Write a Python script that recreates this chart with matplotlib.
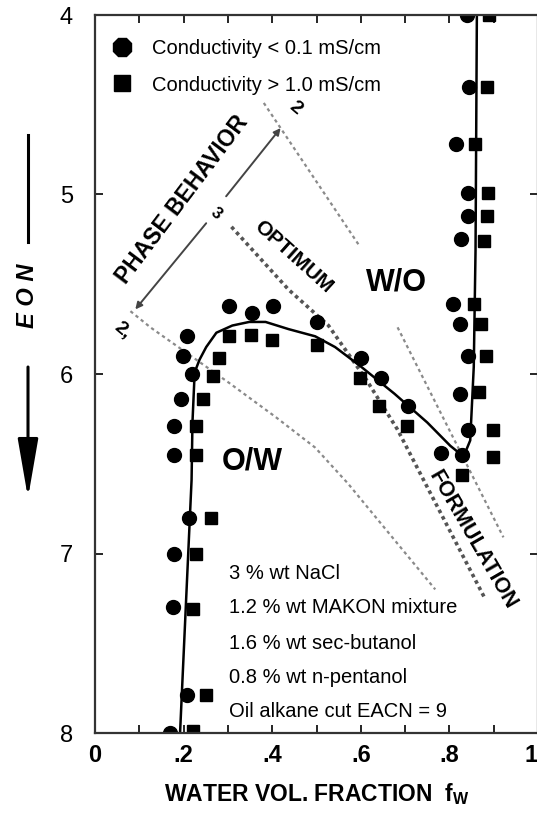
import numpy as np
import matplotlib.pyplot as plt
from matplotlib.lines import Line2D
from matplotlib.patches import FancyArrowPatch

plt.rcParams['font.family'] = ['Liberation Sans', 'DejaVu Sans']
plt.rcParams['mathtext.fontset'] = 'custom'
plt.rcParams['mathtext.rm'] = 'Liberation Sans'
plt.rcParams['mathtext.bf'] = 'Liberation Sans:bold'

# conductivity < 0.1 mS/cm  (circles)
low_fw = [0.17, 0.207, 0.175, 0.178, 0.212, 0.178, 0.178, 0.195, 0.218, 0.199, 0.207,
          0.303, 0.355, 0.402, 0.501, 0.601, 0.646, 0.706, 0.780, 0.828,
          0.843, 0.823, 0.843, 0.825, 0.808, 0.826, 0.843, 0.843, 0.814, 0.844, 0.840]
low_eon = [8.0, 7.79, 7.30, 7.00, 6.80, 6.45, 6.29, 6.14, 6.00, 5.90, 5.79,
           5.62, 5.66, 5.62, 5.71, 5.91, 6.02, 6.18, 6.44, 6.45,
           6.31, 6.11, 5.90, 5.72, 5.61, 5.25, 5.12, 4.99, 4.72, 4.40, 4.00]

# conductivity > 1.0 mS/cm  (squares)
high_fw = [0.222, 0.251, 0.221, 0.227, 0.262, 0.229, 0.229, 0.244, 0.266, 0.281,
           0.302, 0.352, 0.400, 0.501, 0.598, 0.642, 0.704, 0.828,
           0.898, 0.898, 0.866, 0.883, 0.871, 0.855, 0.878, 0.886, 0.888, 0.858, 0.884, 0.889]
high_eon = [7.99, 7.79, 7.31, 7.00, 6.80, 6.45, 6.29, 6.14, 6.01, 5.91,
            5.79, 5.78, 5.81, 5.84, 6.02, 6.18, 6.29, 6.56,
            6.46, 6.31, 6.10, 5.90, 5.72, 5.61, 5.26, 5.12, 4.99, 4.72, 4.40, 4.00]

# inversion line
curve_fw = [0.192, 0.218, 0.220, 0.225, 0.236, 0.251, 0.274, 0.310, 0.348, 0.385, 0.437,
            0.497, 0.542, 0.601, 0.676, 0.750, 0.802, 0.832, 0.847, 0.855, 0.859, 0.862]
curve_eon = [8.0, 6.59, 6.27, 5.99, 5.92, 5.85, 5.77, 5.73, 5.71, 5.71, 5.75,
             5.79, 5.85, 5.96, 6.11, 6.27, 6.40, 6.46, 6.37, 5.96, 5.31, 4.00]

# dotted guide lines
upper_a_fw = [0.381, 0.598]
upper_a_eon = [4.49, 5.29]
upper_b_fw = [0.683, 0.922]
upper_b_eon = [5.74, 6.91]
optimum_fw = [0.308, 0.437, 0.527, 0.612, 0.683, 0.750, 0.878]
optimum_eon = [5.18, 5.53, 5.73, 6.03, 6.31, 6.63, 7.24]
lower_fw = [0.080, 0.125, 0.303, 0.408, 0.497, 0.571, 0.768]
lower_eon = [5.65, 5.74, 6.05, 6.24, 6.41, 6.61, 7.20]

# phase behavior arrow ends
arrow_lo = [(0.251, 5.16), (0.091, 5.64)]
arrow_hi = [(0.296, 5.01), (0.419, 4.63)]

conditions = ['3 % wt NaCl', '1.2 % wt MAKON mixture', '1.6 % wt sec-butanol',
              '0.8 % wt n-pentanol', 'Oil alkane cut EACN = 9']
cond_eon = [7.11, 7.30, 7.50, 7.69, 7.88]

xticks = [0, 0.2, 0.4, 0.6, 0.8, 1.0]
xticklabels = ['0', '.2', '.4', '.6', '.8', '1']
yticks = [4, 5, 6, 7, 8]

fig = plt.figure(figsize=(5.37, 8.13), dpi=100)
ax = fig.add_axes([95 / 537, 80 / 813, 443 / 537, 718 / 813])

dot = dict(color='#8a8a8a', lw=1.6, ls=(0, (1.5, 1.5)))
ax.plot(upper_a_fw, upper_a_eon, **dot)
ax.plot(upper_b_fw, upper_b_eon, **dot)
ax.plot(lower_fw, lower_eon, **dot)
ax.plot(optimum_fw, optimum_eon, color='#555555', lw=2.6, ls=(0, (1, 1)))

for tail, head in (arrow_lo, arrow_hi):
    ax.annotate('', xy=head, xytext=tail,
                arrowprops=dict(arrowstyle='-|>', color='#444444', lw=1.4,
                                mutation_scale=10, shrinkA=0, shrinkB=0))

ax.plot(curve_fw, curve_eon, color='black', lw=1.8)
ax.plot(low_fw, low_eon, 'o', color='black', ms=10, mec='black')
ax.plot(high_fw, high_eon, 's', color='black', ms=9, mec='black')

ax.text(0.196, 5.03, 'PHASE BEHAVIOR', rotation=53, fontsize=16.5, fontweight='bold',
        ha='center', va='center', rotation_mode='anchor')
ax.text(0.447, 5.35, 'OPTIMUM', rotation=-42, fontsize=15, fontweight='bold',
        ha='center', va='center', rotation_mode='anchor')
ax.text(0.853, 6.925, 'FORMULATION', rotation=-60, fontsize=15.5, fontweight='bold',
        ha='center', va='center', rotation_mode='anchor')
ax.text(0.680, 5.49, 'W/O', fontsize=22, fontweight='bold', ha='center', va='center')
ax.text(0.355, 6.49, 'O/W', fontsize=22, fontweight='bold', ha='center', va='center')
ax.text(0.274, 5.105, '3', rotation=-40, fontsize=12, fontweight='bold',
        ha='center', va='center')
ax.text(0.452, 4.52, '2', rotation=-40, fontsize=14, fontweight='bold',
        ha='center', va='center')
ax.text(0.061, 5.76, '2,', rotation=-40, fontsize=14, fontweight='bold',
        ha='center', va='center')

for label, y in zip(conditions, cond_eon):
    ax.text(0.303, y, label, fontsize=14.5, ha='left', va='center')

handles = [Line2D([], [], marker='8', ls='none', color='black', ms=14),
           Line2D([], [], marker='s', ls='none', color='black', ms=11.5)]
ax.legend(handles, ['Conductivity < 0.1 mS/cm', 'Conductivity > 1.0 mS/cm'],
          loc='upper left', bbox_to_anchor=(0.005, 0.966), frameon=False,
          fontsize=14.5, borderpad=0, borderaxespad=0, handlelength=2.5,
          handletextpad=0.2, labelspacing=0.85)

ax.set_xlim(0, 1)
ax.set_ylim(8, 4)
ax.set_xticks(xticks)
ax.set_xticklabels(xticklabels, fontweight='bold', fontsize=17)
ax.get_xticklabels()[-1].set_ha('right')
ax.set_xticks(np.arange(0.1, 1.0, 0.2), minor=True)
ax.set_yticks(yticks)
ax.set_yticklabels([str(v) for v in yticks], fontsize=17)
ax.tick_params(which='both', direction='in', top=True, right=True, length=6, width=1.2)
ax.tick_params(axis='x', pad=8)
ax.tick_params(axis='y', pad=16)
for sp in ax.spines.values():
    sp.set_linewidth(1.6)
    sp.set_color('#333333')

ax.set_xlabel(r'WATER VOL. FRACTION  $\mathbf{f_W}$', fontsize=16.5, fontweight='bold',
              labelpad=10)

# EON axis title with arrow
fig.text(28 / 537, 1 - 296 / 813, 'E O N', rotation=90, fontsize=17, fontweight='bold',
         fontstyle='italic', ha='center', va='center')
fig.add_artist(Line2D([28 / 537, 28 / 537], [1 - 135 / 813, 1 - 242 / 813],
                      color='black', lw=2.2))
fig.add_artist(FancyArrowPatch(
    (28 / 537, 1 - 367 / 813), (28 / 537, 1 - 498 / 813), transform=fig.transFigure,
    arrowstyle='-|>,head_length=2.6,head_width=0.45', mutation_scale=14,
    color='black', lw=2.2, shrinkA=0, shrinkB=0))

fig.savefig('out.png', dpi=100)
